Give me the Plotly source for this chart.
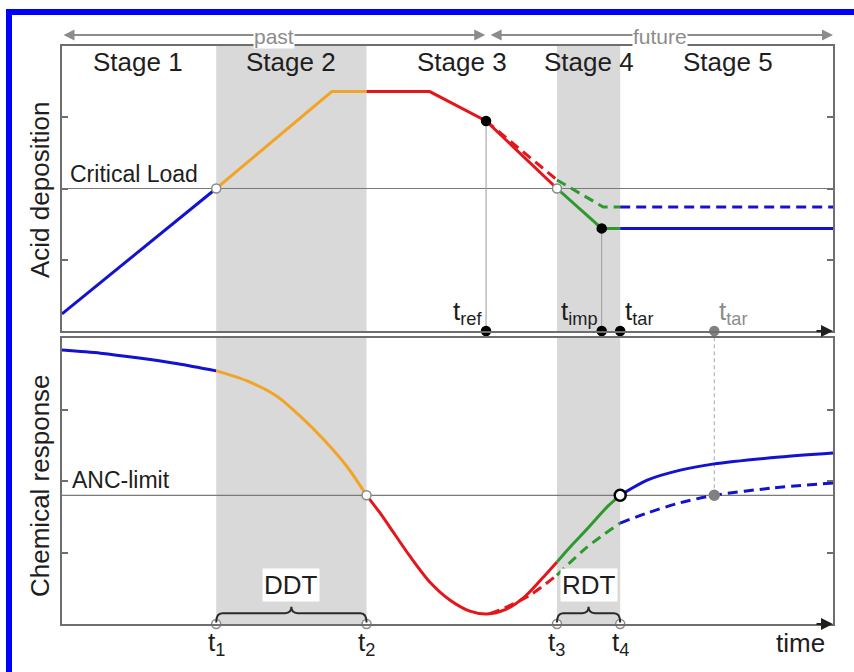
import plotly.graph_objects as go

# ---------------- data ----------------
# key times (arbitrary time units, 0..100)
T1, T2, T3, T4 = 20.0, 39.5, 64.2, 72.4
T_REF, T_IMP, T_TAR_ALT = 55.0, 70.0, 84.6
T_END = 100.0
CRIT_LOAD = 5.0
ANC_LIMIT = 4.5

stage_names = ["Stage 1", "Stage 2", "Stage 3", "Stage 4", "Stage 5"]
stage_pos = [9.8, 29.7, 51.9, 68.4, 86.4]

# acid deposition (top panel)
dep_s1_t = [0.0, T1];                 dep_s1_v = [0.6, CRIT_LOAD]
dep_s2_t = [T1, 35.0, T2];            dep_s2_v = [CRIT_LOAD, 8.4, 8.4]
dep_s3_t = [T2, 47.7, T_REF, T3];     dep_s3_v = [8.4, 8.4, 7.37, CRIT_LOAD]
dep_s4_t = [T3, T_IMP, T4];           dep_s4_v = [CRIT_LOAD, 3.6, 3.6]
dep_s5_t = [T4, T_END];               dep_s5_v = [3.6, 3.6]
dep_s3d_t = [T_REF, T3];              dep_s3d_v = [7.37, 5.3]
dep_s4d_t = [T3, 70.2, T4];           dep_s4d_v = [5.3, 4.35, 4.35]
dep_s5d_t = [T4, T_END];              dep_s5d_v = [4.35, 4.35]

# chemical response (bottom panel)
chem_s1_t = [0.0, 5.0, 10.0, 15.0, T1]
chem_s1_v = [9.58, 9.47, 9.3, 9.1, 8.85]
chem_s2_t = [T1, 24.0, 28.0, 31.0, 34.0, 37.0, T2]
chem_s2_v = [8.85, 8.5, 7.94, 7.24, 6.43, 5.49, ANC_LIMIT]
chem_s3_t = [T2, 41.2, 43.2, 45.1, 47.7, 50.3, 52.9, 55.1, 57.5, 60.0, 62.3, T3]
chem_s3_v = [ANC_LIMIT, 3.9, 3.12, 2.38, 1.47, 0.84, 0.45, 0.35, 0.5, 0.95, 1.6, 2.17]
chem_s4_t = [T3, 66.0, 68.1, 70.8, T4]
chem_s4_v = [2.17, 2.72, 3.32, 4.12, ANC_LIMIT]
chem_s5_t = [T4, 75.9, 80.2, 84.4, 93.1, T_END]
chem_s5_v = [ANC_LIMIT, 5.03, 5.38, 5.59, 5.84, 5.98]
chem_s3d_t = [55.5, 56.8, 60.7, T3]
chem_s3d_v = [0.36, 0.49, 1.01, 1.71]
chem_s4d_t = [T3, 68.1, T4]
chem_s4d_v = [1.71, 2.69, 3.53]
chem_s5d_t = [T4, 75.9, 80.2, T_TAR_ALT, 92.0, T_END]
chem_s5d_v = [3.53, 3.88, 4.24, ANC_LIMIT, 4.75, 4.93]

# ---------------- style ----------------
W, H = 854, 672
FONT = "Liberation Sans, Arial, sans-serif"
BLUE, ORANGE, RED, GREEN = "#1212CF", "#F2A428", "#E3161C", "#2E9A2E"
SHADE = "#D9D9D9"
AXC = "#6E6E6E"
DASH = "10px,6px"


def px_x(p):
    return p / W


def px_y(p):
    return 1 - p / H


fig = go.Figure()


def line(xs, ys, color, axis, dash=None, spline=False):
    fig.add_trace(go.Scatter(
        x=xs, y=ys, mode="lines",
        line=dict(color=color, width=3, dash=dash or "solid",
                  shape="spline" if spline else "linear", smoothing=0.8),
        xaxis="x" if axis == 1 else "x2", yaxis="y" if axis == 1 else "y2",
        hoverinfo="skip", showlegend=False))


# top panel lines (dashed drawn first)
line(dep_s3d_t, dep_s3d_v, RED, 1, DASH)
line(dep_s4d_t, dep_s4d_v, GREEN, 1, DASH)
line(dep_s5d_t, dep_s5d_v, BLUE, 1, DASH)
line(dep_s1_t, dep_s1_v, BLUE, 1)
line(dep_s2_t, dep_s2_v, ORANGE, 1)
line(dep_s3_t, dep_s3_v, RED, 1)
line(dep_s4_t, dep_s4_v, GREEN, 1)
line(dep_s5_t, dep_s5_v, BLUE, 1)

# bottom panel lines
line(chem_s3d_t, chem_s3d_v, RED, 2, DASH, True)
line(chem_s4d_t, chem_s4d_v, GREEN, 2, DASH, True)
line(chem_s5d_t, chem_s5d_v, BLUE, 2, DASH, True)
line(chem_s1_t, chem_s1_v, BLUE, 2, None, True)
line(chem_s2_t, chem_s2_v, ORANGE, 2, None, True)
line(chem_s3_t, chem_s3_v, RED, 2, None, True)
line(chem_s4_t, chem_s4_v, GREEN, 2, None, True)
line(chem_s5_t, chem_s5_v, BLUE, 2, None, True)


def dots(xs, ys, axis, fill, outline, size, lw=1.5):
    fig.add_trace(go.Scatter(
        x=xs, y=ys, mode="markers", cliponaxis=False,
        marker=dict(color=fill, size=size, line=dict(color=outline, width=lw)),
        xaxis="x" if axis == 1 else "x2", yaxis="y" if axis == 1 else "y2",
        hoverinfo="skip", showlegend=False))


# top panel markers
dots([T1, T3], [CRIT_LOAD, CRIT_LOAD], 1, "white", "#8A8A8A", 9)
dots([T_REF, T_IMP], [7.37, 3.6], 1, "black", "black", 9)
dots([T_REF, T_IMP, T4], [0, 0, 0], 1, "black", "black", 9)
dots([T_TAR_ALT], [0], 1, "#808080", "#808080", 9)
# bottom panel markers
dots([T2], [ANC_LIMIT], 2, "white", "#8A8A8A", 9)
dots([T_TAR_ALT], [ANC_LIMIT], 2, "#808080", "#808080", 10)
dots([T4], [ANC_LIMIT], 2, "white", "black", 11, 2.5)
dots([T1, T2, T3, T4], [0, 0, 0, 0], 2, "white", "#8A8A8A", 9)

shapes = []
# shaded stages (both panels)
for xr, yr in (("x", "y domain"), ("x2", "y2 domain")):
    for a, b in ((T1, T2), (T3, T4)):
        shapes.append(dict(type="rect", xref=xr, yref=yr, x0=a, x1=b, y0=0, y1=1,
                           fillcolor=SHADE, line=dict(width=0), layer="below"))
# reference lines
shapes.append(dict(type="line", xref="x domain", yref="y", x0=0, x1=1,
                   y0=CRIT_LOAD, y1=CRIT_LOAD, line=dict(color="#7A7A7A", width=1.2),
                   layer="below"))
shapes.append(dict(type="line", xref="x2 domain", yref="y2", x0=0, x1=1,
                   y0=ANC_LIMIT, y1=ANC_LIMIT, line=dict(color="#7A7A7A", width=1.2),
                   layer="below"))
for tx, ty in ((T_REF, 7.37), (T_IMP, 3.6)):
    shapes.append(dict(type="line", xref="x", yref="y", x0=tx, x1=tx, y0=0, y1=ty,
                       line=dict(color="#9A9A9A", width=1), layer="below"))
shapes.append(dict(type="line", xref="x2", yref="y2", x0=T_TAR_ALT, x1=T_TAR_ALT,
                   y0=ANC_LIMIT, y1=10, line=dict(color="#A8A8A8", width=1, dash="4px,3px"),
                   layer="below"))


def brace_path(a, b, y0=0.05, y1=0.38, y2=0.6, d=0.8):
    m = (a + b) / 2
    return (f"M {a},{y0} Q {a},{y1} {a + d},{y1} L {m - d},{y1} Q {m},{y1} {m},{y2} "
            f"Q {m},{y1} {m + d},{y1} L {b - d},{y1} Q {b},{y1} {b},{y0}")


for a, b in ((T1, T2), (T3, T4)):
    shapes.append(dict(type="path", xref="x2", yref="y2", path=brace_path(a, b),
                       line=dict(color="#2A2A2A", width=2)))

# blue frame (left + top)
shapes.append(dict(type="rect", xref="paper", yref="paper", x0=px_x(6), x1=px_x(12),
                   y0=0, y1=px_y(9), fillcolor="#0000FF", line=dict(width=0)))
shapes.append(dict(type="rect", xref="paper", yref="paper", x0=px_x(6), x1=1,
                   y0=px_y(15), y1=px_y(9), fillcolor="#0000FF", line=dict(width=0)))

TXT = "#1E1E1E"
ann = []
# past / future arrows
ARROW_Y = px_y(35)
for a, b in ((0.0, T_REF - 0.1), (T_REF + 0.4, T_END)):
    ann.append(dict(xref="x", yref="paper", x=b, y=ARROW_Y, axref="x", ayref="pixel",
                    ax=a, ay=0, text="", showarrow=True, arrowhead=2, arrowside="end+start",
                    arrowsize=1.1, arrowwidth=2, arrowcolor="#8C8C8C"))
for lbl, cx in (("past", T_REF / 2), ("future", (T_REF + T_END) / 2)):
    ann.append(dict(xref="x", yref="paper", x=cx, y=ARROW_Y, text=lbl,
                    xanchor="center", yanchor="middle", yshift=-1,
                    showarrow=False, bgcolor="white", borderpad=0,
                    font=dict(family=FONT, size=21, color="#8C8C8C")))
# stage labels
for name, pos in zip(stage_names, stage_pos):
    ann.append(dict(xref="x", yref="paper", x=pos, y=px_y(62), text=name, showarrow=False,
                    xanchor="center", yanchor="middle",
                    font=dict(family=FONT, size=26, color=TXT)))
# axis titles
ann.append(dict(xref="paper", yref="paper", x=px_x(40), y=px_y(190), text="Acid deposition",
                xanchor="center", yanchor="middle",
                textangle=-90, showarrow=False, font=dict(family=FONT, size=26, color=TXT)))
ann.append(dict(xref="paper", yref="paper", x=px_x(40), y=px_y(486), text="Chemical response",
                xanchor="center", yanchor="middle",
                textangle=-90, showarrow=False, font=dict(family=FONT, size=26, color=TXT)))
# reference line labels
ann.append(dict(xref="paper", yref="y", x=px_x(68), y=CRIT_LOAD, xanchor="left",
                yanchor="bottom", text="Critical Load", showarrow=False,
                font=dict(family=FONT, size=23, color=TXT)))
ann.append(dict(xref="paper", yref="y2", x=px_x(70), y=ANC_LIMIT, xanchor="left",
                yanchor="bottom", text="ANC-limit", showarrow=False,
                font=dict(family=FONT, size=23, color=TXT)))
# time marks, top panel
for tx, lbl, side, col in ((T_REF, "t<sub>ref</sub>", "right", TXT),
                           (T_IMP, "t<sub>imp</sub>", "right", TXT),
                           (T4, "t<sub>tar</sub>", "left", TXT),
                           (T_TAR_ALT, "t<sub>tar</sub>", "left", "#8C8C8C")):
    ann.append(dict(xref="x", yref="y", x=tx, y=0, xanchor=side, yanchor="bottom",
                    xshift=-2 if side == "right" else 3, yshift=0, text=lbl, showarrow=False,
                    font=dict(family=FONT, size=26, color=col)))
# time marks, bottom panel
for tx, lbl in ((T1, "t<sub>1</sub>"), (T2, "t<sub>2</sub>"),
                (T3, "t<sub>3</sub>"), (T4, "t<sub>4</sub>")):
    ann.append(dict(xref="x2", yref="y2", x=tx, y=0, xanchor="center", yanchor="top",
                    yshift=-1, text=lbl, showarrow=False,
                    font=dict(family=FONT, size=26, color=TXT)))
ann.append(dict(xref="x2", yref="paper", x=T_END, y=px_y(643), xanchor="right",
                yanchor="middle", xshift=-6, text="time", showarrow=False,
                font=dict(family=FONT, size=26, color=TXT)))
# braces labels
for a, b, lbl in ((T1, T2, "DDT"), (T3, T4, "RDT")):
    ann.append(dict(xref="x2", yref="y2", x=(a + b) / 2, y=1.36, text=lbl, showarrow=False,
                    xanchor="center", yanchor="middle",
                    bgcolor="white", borderpad=1,
                    font=dict(family=FONT, size=26, color=TXT)))
# axis arrowheads
for xr, yr in (("x", "y"), ("x2", "y2")):
    ann.append(dict(xref=xr, yref=yr, x=T_END, y=0, ax=-18, ay=0, text="", showarrow=True,
                    arrowhead=2, arrowsize=1.2, arrowwidth=2, arrowcolor="#202020"))

axis_common = dict(showline=True, linecolor=AXC, linewidth=2, mirror=True,
                   showgrid=False, zeroline=False, showticklabels=False)
fig.update_layout(
    width=W, height=H, margin=dict(l=0, r=0, t=0, b=0),
    paper_bgcolor="white", plot_bgcolor="white",
    xaxis=dict(domain=[px_x(62), px_x(833)], range=[0, T_END], anchor="y", ticks="",
               **axis_common),
    xaxis2=dict(domain=[px_x(62), px_x(833)], range=[0, T_END], anchor="y2", ticks="",
                **axis_common),
    yaxis=dict(domain=[px_y(331), px_y(46)], range=[0, 10], anchor="x",
               tickvals=[2.5, 5, 7.5], ticks="inside", ticklen=6, tickwidth=1.5,
               tickcolor=AXC, **{**axis_common, "mirror": "ticks"}),
    yaxis2=dict(domain=[px_y(624), px_y(338)], range=[0, 10], anchor="x2",
                tickvals=[2.5, 5, 7.5], ticks="inside", ticklen=6, tickwidth=1.5,
                tickcolor=AXC, **{**axis_common, "mirror": "ticks"}),
    shapes=shapes, annotations=ann, showlegend=False,
    font=dict(family=FONT),
)

fig.write_html("out.html")
